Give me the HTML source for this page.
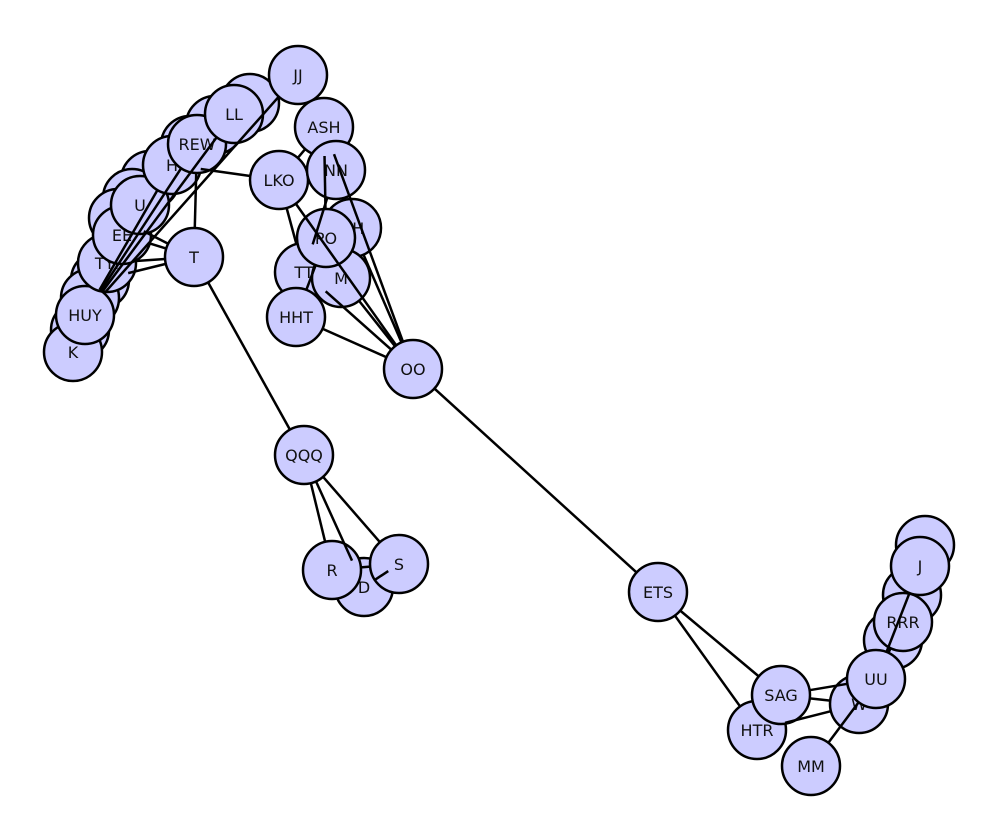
<!DOCTYPE html>
<html><head><meta charset="utf-8"><style>
html,body{margin:0;padding:0;background:#fff}
svg{display:block}
text{font-family:"DejaVu Sans","Liberation Sans",sans-serif;font-size:16px;fill:#111}
</style></head><body>
<svg id="g" width="1000" height="839"></svg>
<script>
const nodeNames=["a1","a2","a3","a4","a5","a6","a7","a8","a9","K","HUY","TYI","EE","U","H","REW","LL","JJ","T","LKO","ASH","NN","OH","TT","M","PO","HHT","OO","QQQ","D","R","S","ETS","b1","b2","b3","HTR","SAG","MM","W","UU","RRR","J"];
const nodeX=[250,215,190,150,132,118,100,90,80,73,85,107,122,140,172,197,234,298,194,279,324,336,352,304,341,326,296,413,304,364,332,399,658,925,912,893,757,781,811,859,876,903,920];
const nodeY=[103,125,145,180,198,218,280,298,330,352,315,263,235,205,165,144,114,75,257,180,127,170,228,272,278,238,317,369,455,587,570,564,592,545,595,640,730,695,766,704,679,622,566];
const edgePairs=[
["JJ","HUY"],["LL","HUY"],["REW","HUY"],["H","HUY"],["REW","T"],["LKO","H"],["TYI","T"],["EE","T"],["a7","T"],["a6","T"],
["T","QQQ"],["QQQ","R"],["QQQ","D"],["QQQ","S"],["R","S"],["D","S"],
["ASH","PO"],["NN","TT"],["ASH","OO"],["LKO","OO"],["LKO","TT"],["HHT","OO"],["TT","OO"],["M","OO"],["OH","OO"],["PO","HHT"],["LKO","ASH"],["OO","ETS"],
["ETS","SAG"],["ETS","HTR"],["SAG","UU"],["SAG","W"],["HTR","W"],["MM","UU"],["UU","J"],["UU","RRR"]];
const R=29, NS="http://www.w3.org/2000/svg", svg=document.getElementById('g');
const idx=n=>nodeNames.indexOf(n);
for(let i=0;i<nodeNames.length;i++){
  const c=document.createElementNS(NS,'circle');
  c.setAttribute('cx',nodeX[i]);c.setAttribute('cy',nodeY[i]);c.setAttribute('r',R);
  c.setAttribute('fill','#ccccff');c.setAttribute('stroke','#000');c.setAttribute('stroke-width','2.5');
  
  
  svg.appendChild(c);
  if(!/^[ab]\d$/.test(nodeNames[i])){
    const t=document.createElementNS(NS,'text');
    t.setAttribute('x',nodeX[i]);t.setAttribute('y',nodeY[i]+6);t.setAttribute('text-anchor','middle');
    t.textContent=nodeNames[i];
    
    
    svg.appendChild(t);
  }
}
for(const [f,g] of edgePairs){
  const a=idx(f),b=idx(g);
  const x1=nodeX[a],y1=nodeY[a],x2=nodeX[b],y2=nodeY[b];
  const d=Math.hypot(x2-x1,y2-y1)||1,ux=(x2-x1)/d,uy=(y2-y1)/d;
  const l=document.createElementNS(NS,'line');
  l.setAttribute('x1',x1+ux*R);l.setAttribute('y1',y1+uy*R);
  l.setAttribute('x2',x2-ux*R);l.setAttribute('y2',y2-uy*R);
  l.setAttribute('stroke','#000');l.setAttribute('stroke-width','2.5');
  
  
  svg.appendChild(l);
}
</script>
</body></html>
